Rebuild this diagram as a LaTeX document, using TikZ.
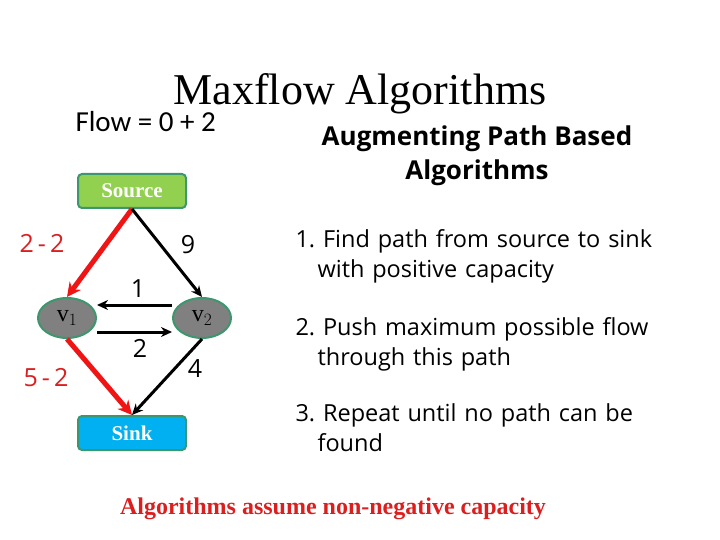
\documentclass[tikz,border=0pt]{standalone}
\usepackage{fontspec}
\setmainfont{Liberation Serif}
\newfontfamily\calib{Carlito}
\newfontfamily\comic{Open Sans}
\usetikzlibrary{arrows.meta}
\usetikzlibrary{shapes.geometric}
\definecolor{srcgreen}{RGB}{146,208,80}
\definecolor{sinkblue}{RGB}{0,176,240}
\definecolor{rimgreen}{RGB}{60,150,110}
\definecolor{pathred}{RGB}{240,20,20}
\definecolor{labred}{RGB}{220,30,30}
\begin{document}
\begin{tikzpicture}[x=1pt,y=-1pt,
    term/.style={draw=rimgreen,line width=2pt,rounded corners=4pt,minimum width=108pt,minimum height=34pt,text=white,font=\bfseries\fontsize{21}{22}\selectfont},
    vert/.style={ellipse,draw=rimgreen,line width=2pt,fill=gray,minimum width=58pt,minimum height=40pt,font=\fontsize{24}{24}\selectfont},
    flow/.style={-{Stealth[length=11pt,width=10pt]},line width=3pt},
    aug/.style={-{Stealth[length=14pt,width=14pt]},line width=5pt,pathred},
    capac/.style={font=\comic\fontsize{25}{26}\selectfont},
    item/.style={font=\comic\fontsize{23.5}{30}\selectfont,align=left,anchor=north west,text width=400pt}]
    \useasboundingbox (0,0) rectangle (720,540);
    %titles
    \node (title) at (360,94) {\fontsize{44}{46}\selectfont Maxflow Algorithms};
    \node[anchor=west] (flowsum) at (72,122) {\calib\fontsize{29}{30}\selectfont Flow = 0 + 2};
    \node[align=center,font=\comic\bfseries\fontsize{26}{34}\selectfont] (head) at (477,156) {Augmenting Path Based\\Algorithms};
    %graph
    \node[term,fill=srcgreen] (src) at (132,191) {Source};
    \node[term,fill=sinkblue] (snk) at (132,433) {Sink};
    \node[vert] (v1) at (67,318) {v$_1$};
    \node[vert] (v2) at (202,318) {v$_2$};
    \draw[aug] (src.south) -- (v1.north);
    \draw[flow] (src.south) -- (v2.north);
    \draw[flow] ([yshift=13pt]v2.west) -- ([yshift=13pt]v1.east);
    \draw[flow] ([yshift=-14pt]v1.east) -- ([yshift=-14pt]v2.west);
    \draw[aug] (v1.south) -- (snk.north);
    \draw[flow] (v2.south) -- (snk.north);
    \node[capac,labred] (c1) at (42,243) {2\,-\,2};
    \node[capac] (c2) at (188,245) {9};
    \node[capac] (c3) at (138,289) {1};
    \node[capac] (c4) at (140,348) {2};
    \node[capac,labred] (c5) at (46,378) {5\,-\,2};
    \node[capac] (c6) at (195,369) {4};
    %steps
    \node[item] (s1) at (292,226) {1.\ Find path from source to sink\\\hspace*{22pt}with positive capacity};
    \node[item] (s2) at (292,314) {2.\ Push maximum possible flow\\\hspace*{22pt}through this path};
    \node[item] (s3) at (292,400) {3.\ Repeat until no path can be\\\hspace*{22pt}found};
    \node[text=labred] (note) at (333,509) {\bfseries\fontsize{24}{26}\selectfont Algorithms assume non-negative capacity};
\end{tikzpicture}
\end{document}
